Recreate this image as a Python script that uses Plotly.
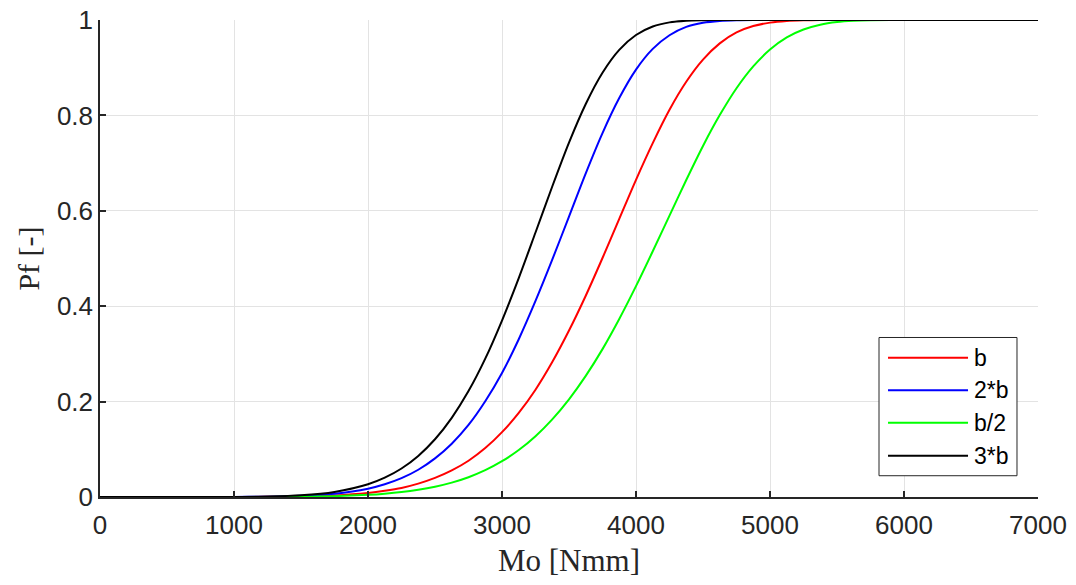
import plotly.graph_objects as go

# Values
mo = [0, 500, 1000, 1250, 1500, 1750, 2000, 2125, 2250, 2375, 2500,
      2625, 2750, 2875, 3000, 3125, 3250, 3375, 3500, 3625, 3750, 3875, 4000,
      4125, 4250, 4375, 4500, 4625, 4750, 4875, 5000, 5125, 5250, 5375, 5500,
      5625, 5750, 6000, 6500, 7000]

pf_b = [0, 0, 0.0001, 0.0003, 0.0011, 0.0033, 0.0085, 0.013, 0.019, 0.028, 0.040,
        0.0557, 0.076, 0.1025, 0.136, 0.1763, 0.225, 0.2829, 0.349, 0.422, 0.501, 0.583, 0.665,
        0.742, 0.812, 0.8706, 0.917, 0.951, 0.974, 0.9873, 0.9945, 0.998, 0.9993, 0.9998, 1.0,
        1.0, 1.0, 1.0, 1.0, 1.0]
pf_2b = [0, 0, 0.0001, 0.0007, 0.0024, 0.0069, 0.0175, 0.0267, 0.0395, 0.0571, 0.081,
         0.1117, 0.151, 0.2007, 0.260, 0.3308, 0.411, 0.4975, 0.588, 0.6786, 0.763, 0.8364, 0.896,
         0.9394, 0.968, 0.9855, 0.9942, 0.9981, 0.9995, 1.0, 1.0, 1.0, 1.0, 1.0, 1.0,
         1.0, 1.0, 1.0, 1.0, 1.0]
pf_b2 = [0, 0, 0.0, 0.0002, 0.0006, 0.0018, 0.0045, 0.0069, 0.0103, 0.0151, 0.0215,
         0.0301, 0.0415, 0.0562, 0.075, 0.0985, 0.1275, 0.1628, 0.2048, 0.2539, 0.310, 0.3732, 0.442,
         0.5151, 0.590, 0.6646, 0.736, 0.8006, 0.857, 0.9028, 0.938, 0.9635, 0.980, 0.9901, 0.9956,
         0.9982, 0.9994, 1.0, 1.0, 1.0]
pf_3b = [0, 0, 0.0002, 0.001, 0.0036, 0.0106, 0.0267, 0.0405, 0.0598, 0.0861, 0.121,
         0.166, 0.222, 0.290, 0.370, 0.459, 0.5545, 0.651, 0.743, 0.824, 0.8895, 0.9374, 0.9685,
         0.9863, 0.995, 0.9985, 0.9996, 1.0, 1.0, 1.0, 1.0, 1.0, 1.0, 1.0, 1.0,
         1.0, 1.0, 1.0, 1.0, 1.0]

series_names = ["b", "2*b", "b/2", "3*b"]
series_values = [pf_b, pf_2b, pf_b2, pf_3b]
series_colors = ["#ff0000", "#0000ff", "#00ff00", "#000000"]

x_ticks = [0, 1000, 2000, 3000, 4000, 5000, 6000, 7000]
y_ticks = [0, 0.2, 0.4, 0.6, 0.8, 1]
y_tick_labels = ["0", "0.2", "0.4", "0.6", "0.8", "1"]

fig = go.Figure()
for name, vals, col in zip(series_names, series_values, series_colors):
    fig.add_trace(go.Scatter(x=mo, y=vals, mode="lines", name=name, showlegend=False,
                             line=dict(color=col, width=2, shape="spline", smoothing=0.8)))

axis_col = "#262626"
grid_col = "#e3e3e3"
tick_font = dict(family="Liberation Sans, Arial, sans-serif", size=26, color=axis_col)

# Legend box (MATLAB style, drawn in paper coordinates)
leg_x0, leg_x1 = 0.8305, 0.9776
leg_y0, leg_y1 = 0.0446, 0.3344
leg_rows = [0.2917, 0.2236, 0.1555, 0.0863]
shapes = [dict(type="rect", xref="paper", yref="paper", x0=leg_x0, x1=leg_x1,
               y0=leg_y0, y1=leg_y1, line=dict(color=axis_col, width=1),
               fillcolor="white", layer="above")]
annotations = []
for name, col, yy in zip(series_names, series_colors, leg_rows):
    shapes.append(dict(type="line", xref="paper", yref="paper", x0=0.8401, x1=0.9254,
                       y0=yy, y1=yy, line=dict(color=col, width=2), layer="above"))
    annotations.append(dict(xref="paper", yref="paper", x=0.9300, y=yy, text=name,
                            showarrow=False, xanchor="left", yanchor="middle",
                            font=dict(family="Liberation Sans, Arial, sans-serif",
                                      size=23, color="#000000")))

fig.update_layout(
    width=1076, height=585,
    margin=dict(l=100, r=38, t=20, b=88, autoexpand=False),
    paper_bgcolor="white", plot_bgcolor="white",
    showlegend=False,
    shapes=shapes, annotations=annotations,
    xaxis=dict(
        range=[0, 7000], tickvals=x_ticks, ticktext=[str(v) for v in x_ticks],
        showgrid=True, gridcolor=grid_col, gridwidth=1, zeroline=False,
        showline=True, linecolor=axis_col, linewidth=1.5,
        ticks="inside", ticklen=6, tickcolor=axis_col, tickwidth=1.5,
        tickfont=tick_font, ticklabelstandoff=4, automargin=False,
        title=dict(text="Mo [Nmm]", standoff=10,
                   font=dict(family="Liberation Serif, Times New Roman, serif", size=31, color=axis_col)),
    ),
    yaxis=dict(
        range=[0, 1], tickvals=y_ticks, ticktext=y_tick_labels,
        showgrid=True, gridcolor=grid_col, gridwidth=1, zeroline=False,
        showline=True, linecolor=axis_col, linewidth=1.5,
        ticks="inside", ticklen=6, tickcolor=axis_col, tickwidth=1.5,
        tickfont=tick_font, ticklabelstandoff=0, automargin=False,
        title=dict(text="Pf [-]", standoff=8,
                   font=dict(family="Liberation Serif, Times New Roman, serif", size=30, color=axis_col)),
    ),
)

fig.write_html("out.html", config={"displayModeBar": False},
               post_script="document.body.style.margin='0';document.body.style.padding='0';")
